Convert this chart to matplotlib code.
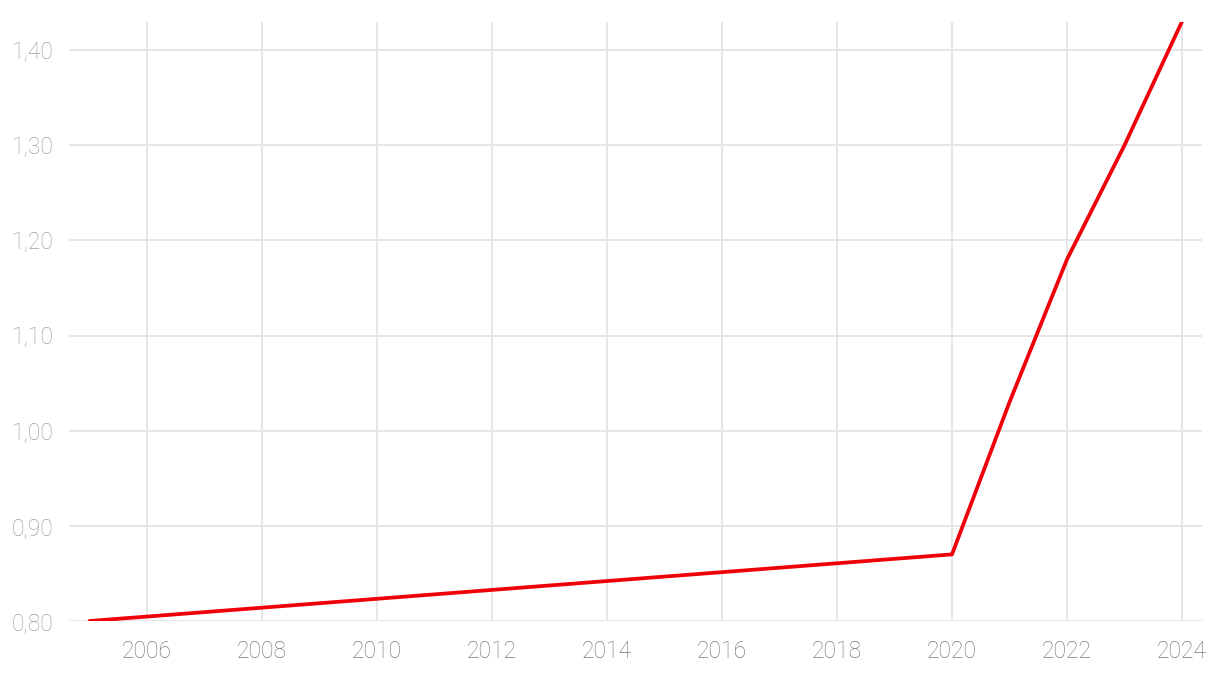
import matplotlib
matplotlib.use("Agg")
import matplotlib.pyplot as plt
from matplotlib.ticker import FuncFormatter

years = [2005, 2020, 2021, 2022, 2023, 2024]
values = [0.80, 0.87, 1.03, 1.18, 1.30, 1.43]
x_ticks = [2006, 2008, 2010, 2012, 2014, 2016, 2018, 2020, 2022, 2024]
y_ticks = [0.80, 0.90, 1.00, 1.10, 1.20, 1.30, 1.40]

plt.rcParams['font.family'] = ['Roboto', 'DejaVu Sans']

fig = plt.figure(figsize=(12.2, 6.74), dpi=100)
ax = fig.add_axes([69/1220, 1 - 621/674, (1202-69)/1220, (621-22)/674])

ax.plot(years, values, color='#f00008', linewidth=2.7, solid_capstyle='round', zorder=3)

ax.set_xlim(2005 - 20.5/57.5, 2024 + 20/57.5)
ax.set_ylim(0.80, 1.4295)
ax.set_xticks(x_ticks)
ax.set_yticks(y_ticks)
ax.yaxis.set_major_formatter(FuncFormatter(lambda v, p: f"{v:.2f}".replace('.', ',')))

ax.grid(True, color='#e6e6e6', linewidth=1.4)
ax.set_axisbelow(True)
for s in ax.spines.values():
    s.set_visible(False)
ax.tick_params(axis='both', length=0)
ax.tick_params(axis='y', labelsize=16.5, labelcolor='#a0a0a0', pad=11)
ax.tick_params(axis='x', labelsize=16.5, labelcolor='#7a7a7a', pad=14)
for lbl in ax.get_xticklabels() + ax.get_yticklabels():
    lbl.set_fontweight('light')

fig.savefig('out.png', dpi=100)
